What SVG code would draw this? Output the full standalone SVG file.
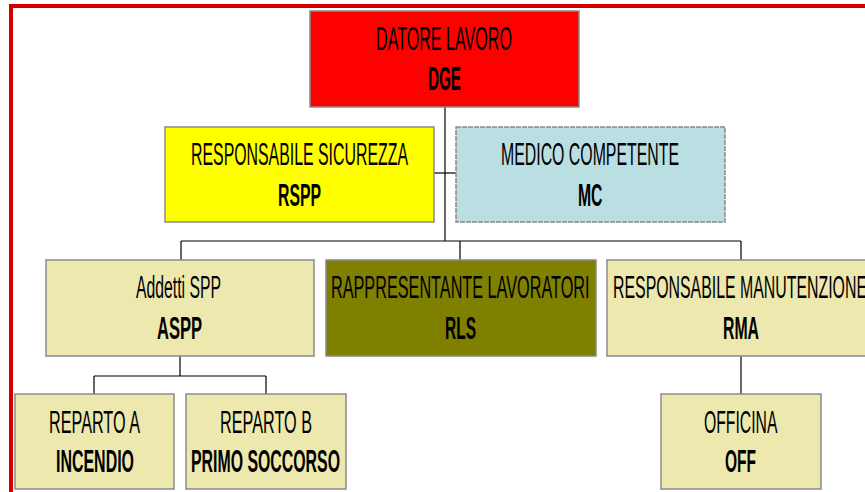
<svg xmlns="http://www.w3.org/2000/svg" width="865" height="492" viewBox="0 0 865 492">
<style>
.box{stroke:#8a8a8a;stroke-width:1.5}
.pale{fill:#EDE8AD}
.t1{font-family:"Liberation Sans",Arial,sans-serif;font-size:31px;fill:#000;text-anchor:start}
.t2{font-family:"Liberation Sans",Arial,sans-serif;font-size:31px;font-weight:bold;fill:#000;text-anchor:start}
.big{font-size:33px}
.conn{stroke:#000;stroke-width:1.2;fill:none}
</style>
<rect width="865" height="492" fill="#fff"/>
<path d="M11,492 V6 H865" fill="none" stroke="#D40000" stroke-width="4"/>
<g id="connectors">
<path class="conn" d="M445,107 V241" stroke-width="2"/>
<path class="conn" d="M434,173 H456"/>
<path class="conn" d="M181,241 H741 M181,241 V260 M460,241 V260 M741,241 V260"/>
<path class="conn" d="M180,356 V376 M94,376 H266 M94,376 V394 M266,376 V394"/>
<path class="conn" d="M741,356 V394"/>
</g>
<g id="dge">
<rect class="box" x="310" y="11" width="269" height="96" fill="#FF0000"/>
<text class="t1 big" x="376" y="50" textLength="136" lengthAdjust="spacingAndGlyphs">DATORE LAVORO</text>
<text class="t2 big" x="428" y="90" textLength="33" lengthAdjust="spacingAndGlyphs">DGE</text>
</g>
<g id="rspp">
<rect class="box" x="165" y="127" width="269" height="95" fill="#FFFF00"/>
<text class="t1" x="191" y="165" textLength="217" lengthAdjust="spacingAndGlyphs">RESPONSABILE SICUREZZA</text>
<text class="t2" x="278" y="206" textLength="43" lengthAdjust="spacingAndGlyphs">RSPP</text>
</g>
<g id="mc">
<rect x="456" y="127" width="269" height="95" fill="#B9DFE2" stroke="#8a8a8a" stroke-width="1.5" stroke-dasharray="5 1"/>
<text class="t1" x="501" y="165" textLength="178" lengthAdjust="spacingAndGlyphs">MEDICO COMPETENTE</text>
<text class="t2" x="578" y="206" textLength="24.5" lengthAdjust="spacingAndGlyphs">MC</text>
</g>
<g id="aspp">
<rect class="box pale" x="46" y="260" width="268" height="96"/>
<text class="t1" x="136" y="298" textLength="85" lengthAdjust="spacingAndGlyphs">Addetti SPP</text>
<text class="t2" x="157" y="339" textLength="45" lengthAdjust="spacingAndGlyphs">ASPP</text>
</g>
<g id="rls">
<rect class="box" x="326" y="260" width="270" height="96" fill="#808000"/>
<text class="t1" x="331" y="298" textLength="258.5" lengthAdjust="spacingAndGlyphs">RAPPRESENTANTE LAVORATORI</text>
<text class="t2" x="445" y="339" textLength="31" lengthAdjust="spacingAndGlyphs">RLS</text>
</g>
<g id="rma">
<rect class="box pale" x="607" y="260" width="268" height="96"/>
<text class="t1" x="613" y="298" textLength="254" lengthAdjust="spacingAndGlyphs">RESPONSABILE MANUTENZIONE</text>
<text class="t2" x="723" y="339" textLength="36" lengthAdjust="spacingAndGlyphs">RMA</text>
</g>
<g id="reparto-a">
<rect class="box pale" x="15" y="394" width="159" height="95"/>
<text class="t1" x="49" y="433" textLength="91" lengthAdjust="spacingAndGlyphs">REPARTO A</text>
<text class="t2" x="56" y="472" textLength="78" lengthAdjust="spacingAndGlyphs">INCENDIO</text>
</g>
<g id="reparto-b">
<rect class="box pale" x="186" y="394" width="160" height="95"/>
<text class="t1" x="220" y="433" textLength="92" lengthAdjust="spacingAndGlyphs">REPARTO B</text>
<text class="t2" x="191" y="472" textLength="149" lengthAdjust="spacingAndGlyphs">PRIMO SOCCORSO</text>
</g>
<g id="officina">
<rect class="box pale" x="661" y="394" width="160" height="95"/>
<text class="t1" x="704" y="433" textLength="73.5" lengthAdjust="spacingAndGlyphs">OFFICINA</text>
<text class="t2" x="725" y="472" textLength="31" lengthAdjust="spacingAndGlyphs">OFF</text>
</g>
</svg>
